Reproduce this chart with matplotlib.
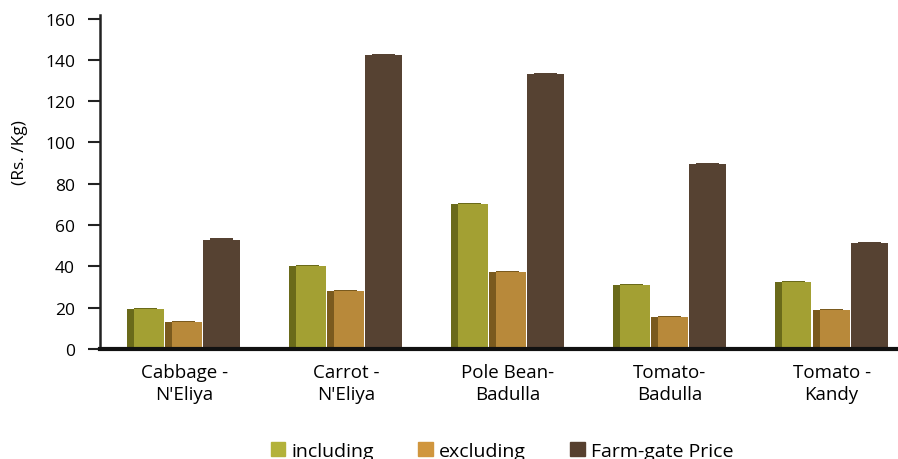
import matplotlib
matplotlib.use('Agg')
import matplotlib.pyplot as plt
from matplotlib.patches import Patch

plt.rcParams['font.family'] = ['Open Sans', 'DejaVu Sans']

categories = ["Cabbage -\nN'Eliya", "Carrot -\nN'Eliya", "Pole Bean-\nBadulla",
              "Tomato-\nBadulla", "Tomato -\nKandy"]
series = ['including', 'excluding', 'Farm-gate Price']
including = [19.5, 40, 70, 31, 32.5]
excluding = [13, 28, 37.5, 15.5, 19]
farmgate = [53, 142.5, 133, 89.5, 51.5]

face_colors = ['#A3A033', '#B8893A', '#564232']
side_colors = ['#6A6A1A', '#7A5A1E', '#564232']
legend_colors = ['#B3B23A', '#D0963E', '#57402F']


def draw_bars(ax, values, k):
    slot = 0.235
    side_w = 0.043
    full_w = 0.228
    xs = [i + (k - 1.5) * slot for i in range(len(values))]
    ax.bar(xs, values, width=side_w, align='edge', color=side_colors[k], linewidth=0)
    face_x = [x + side_w for x in xs]
    ax.bar(face_x, values, width=full_w - side_w, align='edge',
           color=face_colors[k], linewidth=0)
    ax.bar(face_x, [0.5] * len(values), bottom=values, width=full_w - 2 * side_w,
           align='edge', color=side_colors[k], linewidth=0)


fig = plt.figure(figsize=(8.98, 4.60), dpi=100)
ax = fig.add_axes([100 / 898, 110 / 460, 798 / 898, 334 / 460])

for k, vals in enumerate([including, excluding, farmgate]):
    draw_bars(ax, vals, k)

ax.set_xlim(-0.52, 4.41)
ax.set_ylim(0, 161.7)
ax.set_yticks(range(0, 161, 20))
ax.set_xticks(range(len(categories)))
ax.set_xticklabels(categories, fontsize=13.5, linespacing=1.3)
ax.tick_params(axis='x', length=0, pad=10)
ax.tick_params(axis='y', length=9, width=1.5, direction='out', pad=9,
               labelsize=12.5, color='#222222')

for s in ['top', 'right']:
    ax.spines[s].set_visible(False)
ax.spines['left'].set_linewidth(1.8)
ax.spines['left'].set_color('#222222')
ax.spines['bottom'].set_linewidth(3)
ax.spines['bottom'].set_color('#111111')

fig.text(20 / 898, 1 - 153 / 460, '(Rs. /Kg)', rotation=90, fontsize=12.5,
         ha='center', va='center')

handles = [Patch(color=c, label=s) for c, s in zip(legend_colors, series)]
fig.legend(handles=handles, loc='center', bbox_to_anchor=(502 / 898, 8 / 460),
           ncol=3, frameon=False, fontsize=14, handlelength=0.75,
           handleheight=0.75, handletextpad=0.3, columnspacing=2.3)

fig.savefig('out.png', dpi=100)
